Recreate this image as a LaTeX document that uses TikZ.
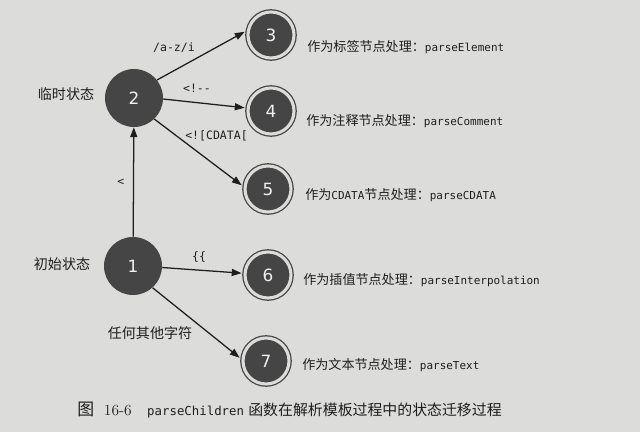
\documentclass[tikz,border=0pt]{standalone}
\usepackage{fontspec}
\newfontfamily\cjk{Noto Sans CJK SC}
\setmonofont{DejaVu Sans Mono}
\newfontfamily\numfont{DejaVu Sans}
\usetikzlibrary{arrows.meta}

\definecolor{pagegray}{HTML}{DCDCDA}
\definecolor{statefill}{HTML}{454545}
\definecolor{inkblack}{HTML}{1E1E1E}

\begin{document}
\begin{tikzpicture}[x=0.025cm, y=-0.025cm,
  state/.style={circle, fill=statefill, text=white!88!gray, inner sep=0pt,
    font=\numfont\fontsize{12}{12}\selectfont},
  startstate/.style={state, minimum size=1.45cm},
  endstate/.style={state, minimum size=1.15cm, draw=statefill, line width=0.9pt,
    double=pagegray, double distance=2.2pt, outer sep=2.5pt},
  edge/.style={-{Triangle[length=7pt,width=5pt]}, line width=0.9pt, draw=inkblack},
  edgelbl/.style={font=\ttfamily\fontsize{8.2}{9}\selectfont, text=inkblack, inner sep=0pt},
  statelbl/.style={font=\cjk\fontsize{10}{12}\selectfont, text=inkblack, inner sep=0pt},
  action/.style={anchor=west, font=\cjk\fontsize{9.3}{11}\selectfont, text=inkblack, inner sep=0pt}]

% Page
\fill[pagegray] (0,0) rectangle (640,432);
\useasboundingbox (0,0) rectangle (640,432);

% Start states
\node[startstate] (s1) at (133,266) {1};
\node[startstate] (s2) at (134,98) {2};
\node[statelbl] (s1lbl) at (62,264) {初始状态};
\node[statelbl] (s2lbl) at (66,94) {临时状态};

% End states
\node[endstate] (s3) at (271,35) {3};
\node[endstate] (s4) at (271,111) {4};
\node[endstate] (s5) at (268,189) {5};
\node[endstate] (s6) at (268,275) {6};
\node[endstate] (s7) at (266,361) {7};

% Actions
\node[action] (a3) at (307,47) {作为标签节点处理：{\ttfamily\fontsize{7.8}{9}\selectfont parseElement}};
\node[action] (a4) at (306,121) {作为注释节点处理：{\ttfamily\fontsize{7.8}{9}\selectfont parseComment}};
\node[action] (a5) at (305,195) {作为{\ttfamily\fontsize{7.8}{9}\selectfont CDATA}节点处理：{\ttfamily\fontsize{7.8}{9}\selectfont parseCDATA}};
\node[action] (a6) at (303,280) {作为插值节点处理：{\ttfamily\fontsize{7.8}{9}\selectfont parseInterpolation}};
\node[action] (a7) at (302,365) {作为文本节点处理：{\ttfamily\fontsize{7.8}{9}\selectfont parseText}};

% Transitions
\draw[edge] (s1) -- (s2) node[edgelbl, pos=0.5, left=6pt] {<};
\draw[edge] (s2.38) -- (s3.173);
\draw[edge] (s2.-2) -- (s4.173);
\draw[edge] (s2.-46) -- (s5.172);
\draw[edge] (s1.-3) -- (s6.176);
\draw[edge] (s1.-48) -- (s7.173);

% Transition labels
\node[edgelbl] (t3) at (174,48) {/a-z/i};
\node[edgelbl] (t4) at (197,88) {<!--};
\node[edgelbl, anchor=west] (t5) at (185,136) {<![CDATA[};
\node[edgelbl] (t6) at (199,257) {\{\{};
\node[statelbl] (t7) at (150,333) {任何其他字符};

% Caption
\node[anchor=west, inner sep=0pt, text=inkblack] (cap) at (77,410)
  {{\cjk\fontsize{12}{14}\selectfont 图}\hspace{7pt}{\fontsize{11}{12}\selectfont 16-6}\hspace{11pt}{\ttfamily\fontsize{8.8}{12}\selectfont parseChildren}\hspace{3pt}{\cjk\fontsize{10.6}{12}\selectfont 函数在解析模板过程中的状态迁移过程}};
\end{tikzpicture}
\end{document}
